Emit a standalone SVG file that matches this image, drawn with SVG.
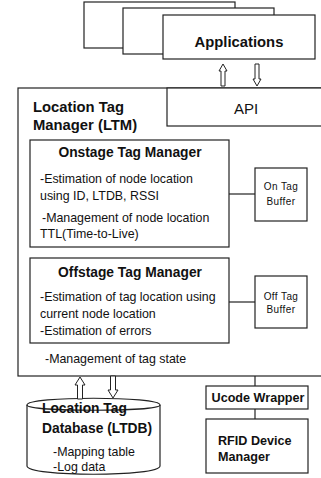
<svg xmlns="http://www.w3.org/2000/svg" width="321" height="478" viewBox="0 0 321 478">
  <style>
    .box { fill: #fff; stroke: #222; stroke-width: 1.2; }
    .ln { fill: none; stroke: #222; stroke-width: 1.2; }
    .arr { fill: #fff; stroke: #222; stroke-width: 1; }
    text { font-family: "Liberation Sans", Arial, sans-serif; fill: #111; }
    .b15 { font-size: 14.8px; font-weight: bold; }
    .b13 { font-size: 13.8px; font-weight: bold; }
    .b12 { font-size: 12.6px; font-weight: bold; }
    .t12 { font-size: 12.4px; }
    .t10 { font-size: 10px; letter-spacing: 0.4px; }
  </style>
  <rect width="321" height="478" fill="#fff"/>

  <!-- stacked application windows -->
  <g id="applications">
    <rect class="box" x="84" y="2" width="151" height="46"/>
    <rect class="box" x="123" y="8" width="151" height="46"/>
    <rect class="box" x="163" y="15" width="152" height="44"/>
    <text class="b15" x="239" y="47" text-anchor="middle">Applications</text>
  </g>

  <!-- location tag manager frame -->
  <g id="ltm">
    <rect class="box" x="18" y="88" width="310" height="288"/>
    <text class="b15" x="33" y="112">Location Tag</text>
    <text class="b15" x="33" y="130">Manager (LTM)</text>
    <text class="t12" x="45" y="363">-Management of tag state</text>
  </g>

  <g id="api">
    <rect class="box" x="167" y="88" width="160" height="38"/>
    <text x="246" y="114" text-anchor="middle" style="font-size:15px">API</text>
  </g>

  <g id="onstage">
    <rect class="box" x="30" y="140" width="199" height="107"/>
    <text class="b13" x="130" y="157" text-anchor="middle">Onstage Tag Manager</text>
    <text class="t12" x="40" y="182.5">-Estimation of node location</text>
    <text class="t12" x="40" y="199.5">using ID, LTDB, RSSI</text>
    <text class="t12" x="42" y="221.5">-Management of node location</text>
    <text class="t12" x="40" y="237.5">TTL(Time-to-Live)</text>
  </g>

  <g id="on-buffer">
    <rect class="box" x="255" y="168" width="52" height="53"/>
    <text class="t10" x="281" y="190" text-anchor="middle">On Tag</text>
    <text class="t10" x="281" y="205" text-anchor="middle">Buffer</text>
  </g>

  <g id="offstage">
    <rect class="box" x="30" y="258" width="199" height="85"/>
    <text class="b13" x="130" y="277" text-anchor="middle">Offstage Tag Manager</text>
    <text class="t12" x="40" y="300.5">-Estimation of tag location using</text>
    <text class="t12" x="40" y="317.5">current node location</text>
    <text class="t12" x="40" y="335">-Estimation of errors</text>
  </g>

  <g id="off-buffer">
    <rect class="box" x="255" y="276" width="52" height="52"/>
    <text class="t10" x="281" y="300" text-anchor="middle">Off Tag</text>
    <text class="t10" x="281" y="313" text-anchor="middle">Buffer</text>
  </g>

  <!-- database drawn as a cylinder with a flat top ellipse -->
  <g id="ltdb">
    <path class="box" d="M27,405 C27,396 160,396 160,405 L160,466 C160,477 27,477 27,466 Z"/>
    <path class="ln" d="M27,405 C27,412 160,412 160,405"/>
    <text class="b13" x="42" y="413">Location Tag</text>
    <text class="b13" x="42" y="433">Database (LTDB)</text>
    <text class="t12" x="53" y="455.5">-Mapping table</text>
    <text class="t12" x="53" y="470.5">-Log data</text>
  </g>

  <g id="ucode-wrapper">
    <rect class="box" x="206" y="386" width="102" height="23"/>
    <text class="b12" x="258" y="402" text-anchor="middle">Ucode Wrapper</text>
  </g>

  <g id="rfid">
    <rect class="box" x="206" y="419" width="102" height="54"/>
    <text class="b12" x="218" y="445">RFID Device</text>
    <text class="b12" x="218" y="461">Manager</text>
  </g>

  <!-- connectors -->
  <g id="connectors">
    <line class="ln" x1="229" y1="194" x2="255" y2="194"/>
    <line class="ln" x1="229" y1="302" x2="255" y2="302"/>
    <line class="ln" x1="255" y1="376" x2="255" y2="386"/>
    <line class="ln" x1="255" y1="409" x2="255" y2="419"/>
    <polygon class="arr" points="223,64 227,71 225,71 225,86 221,86 221,71 219,71"/>
    <polygon class="arr" points="257,86 253,79 255,79 255,64 259,64 259,79 261,79"/>
    <polygon class="arr" points="80,377 85,385 82.5,385 82.5,399 77.5,399 77.5,385 75,385"/>
    <polygon class="arr" points="113,398 108,390 110.5,390 110.5,376 115.5,376 115.5,390 118,390"/>
  </g>
</svg>
